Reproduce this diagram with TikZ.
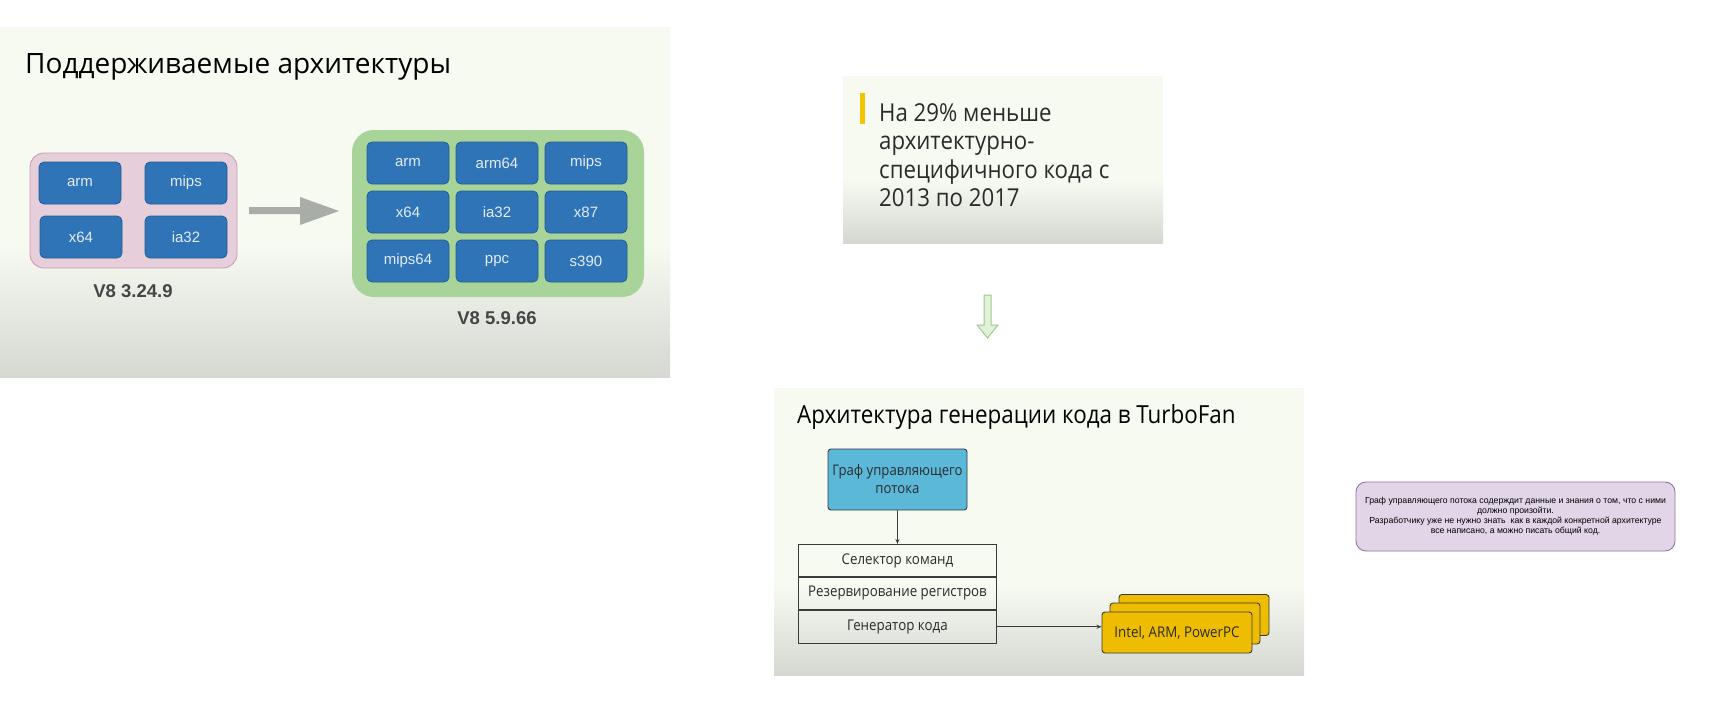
\documentclass[tikz,border=0pt]{standalone}
\usepackage{fontspec}
\setmainfont{Open Sans}
\newfontfamily\yfont[FakeStretch=0.9]{Open Sans}
\newfontfamily\arialf{Liberation Sans}
\usetikzlibrary{arrows.meta}
\definecolor{bgtop}{HTML}{F6FAF1}
\definecolor{bgbot}{HTML}{D4D8D1}
\definecolor{archblue}{HTML}{2F74B7}
\definecolor{archedge}{HTML}{245C93}
\definecolor{archtext}{HTML}{E4ECF4}
\definecolor{pinkfill}{HTML}{E6CFDB}
\definecolor{pinkedge}{HTML}{C99DB2}
\definecolor{greenfill}{HTML}{A8D49A}
\definecolor{greyarrow}{HTML}{A9ADA7}
\definecolor{vlabel}{HTML}{454545}
\definecolor{slidetext}{HTML}{2B2B2B}
\definecolor{yandexyellow}{HTML}{F5C400}
\definecolor{darrowfill}{HTML}{E2F1DA}
\definecolor{darrowedge}{HTML}{9CCC88}
\definecolor{cfgblue}{HTML}{5BB8D9}
\definecolor{boxedge}{HTML}{3A3A3A}
\definecolor{gold}{HTML}{EFBD00}
\definecolor{notefill}{HTML}{E1D5E7}
\definecolor{noteedge}{HTML}{9673A6}
\tikzset{
  archbox/.style={rounded corners=5pt, fill=archblue, draw=archedge, line width=0.8pt,
    minimum width=82pt, minimum height=42pt, inner sep=0pt,
    font=\arialf\fontsize{15}{18}\selectfont, text=archtext},
  vlab/.style={inner sep=0pt, font=\arialf\bfseries\fontsize{18.5}{22}\selectfont, text=vlabel},
  slidetitle/.style={inner sep=0pt, anchor=base west, text=black},
  rowbox/.style={draw=boxedge, line width=0.9pt, minimum width=198pt, inner sep=0pt,
    font=\yfont\fontsize{14.8}{17}\selectfont, text=slidetext},
  goldbox/.style={draw=boxedge, line width=0.9pt, fill=gold, rounded corners=3pt,
    minimum width=150pt, minimum height=41pt, inner sep=0pt,
    font=\yfont\fontsize{14.8}{18}\selectfont, text=slidetext},
  conn/.style={draw=boxedge, line width=0.9pt, -{Stealth[length=5pt,width=4pt]}}
}
\begin{document}
\begin{tikzpicture}[x=1pt,y=-1pt]
\useasboundingbox (0,0) rectangle (1713,712);
\fill[white] (0,0) rectangle (1713,712);

% ---------- slide 1 ----------
\fill[bgtop] (0,27) rectangle (670,377);
\shade[top color=bgtop, bottom color=bgbot] (0,245) rectangle (670,377);
\node[slidetitle, font=\fontsize{28}{34}\selectfont] (t1) at (25,73) {Поддерживаемые архитектуры};

\fill[pinkfill, draw=pinkedge, line width=0.9pt, rounded corners=14pt] (30,153) rectangle (237,268);
\node[archbox] (a1) at (80,183) {arm};
\node[archbox] (a2) at (186,183) {mips};
\node[archbox] (a3) at (81,237) {x64};
\node[archbox] (a4) at (186,237) {ia32};
\node[vlab] (v1) at (133,291) {V8 3.24.9};

\fill[greyarrow] (249,207) -- (300,207) -- (300,197) -- (339,211) -- (300,225) -- (300,214) -- (249,214) -- cycle;

\fill[greenfill, rounded corners=22pt] (352,130) rectangle (644,297);
\node[archbox] (b1) at (408,163) {arm};
\node[archbox] (b2) at (497,163) {arm64};
\node[archbox] (b3) at (586,163) {mips};
\node[archbox] (b4) at (408,212) {x64};
\node[archbox] (b5) at (497,212) {ia32};
\node[archbox] (b6) at (586,212) {x87};
\node[archbox] (b7) at (408,261) {mips64};
\node[archbox] (b8) at (497,261) {ppc};
\node[archbox] (b9) at (586,261) {s390};
\node[vlab] (v2) at (497,318.5) {V8 5.9.66};

% ---------- slide 2 ----------
\fill[bgtop] (843,76) rectangle (1163,243);
\shade[top color=bgtop, bottom color=bgbot] (843,180) rectangle (1163,243);
\fill[yandexyellow] (860,93) rectangle (865,124);
\node[inner sep=0pt, anchor=north west, align=left, text=slidetext,
  font=\yfont\fontsize{24.7}{28.5}\selectfont] (s2) at (879,103)
  {На 29\% меньше\\архитектурно-\\специфичного кода с\\2013 по 2017};

% down arrow
\filldraw[fill=darrowfill, draw=darrowedge, line width=1pt]
  (984,295) -- (991,295) -- (991,325) -- (998,325) -- (987.5,338) -- (977,325) -- (984,325) -- cycle;

% ---------- slide 3 ----------
\fill[bgtop] (774,388) rectangle (1304,675);
\shade[top color=bgtop, bottom color=bgbot] (774,585) rectangle (1304,675);
\node[slidetitle, font=\yfont\fontsize{24.9}{30}\selectfont] (t3) at (797,423) {Архитектура генерации кода в TurboFan};

\node[draw=boxedge, line width=0.9pt, fill=cfgblue, rounded corners=3pt,
  minimum width=139pt, minimum height=61pt, inner sep=0pt, align=center,
  font=\yfont\fontsize{14.6}{18}\selectfont, text=slidetext] (cfg) at (897.5,479.5)
  {Граф управляющего\\потока};

\node[rowbox, minimum height=32pt, anchor=north west] (r1) at (798,544) {Селектор команд};
\node[rowbox, minimum height=32pt, anchor=north] (r2) at (r1.south) {Резервирование регистров};
\node[rowbox, minimum height=33pt, anchor=north] (r3) at (r2.south) {Генератор кода};

\node[goldbox] (g3) at (1194,615) {};
\node[goldbox] (g2) at (1185,623.5) {};
\node[goldbox] (g1) at (1177,632.5) {Intel, ARM, PowerPC};

\draw[conn] (cfg.south) -- (r1.north);
\draw[conn] (r3.east) -- (r3.east -| g1.west);

% ---------- note ----------
\node[draw=noteedge, line width=0.9pt, fill=notefill, rounded corners=10pt,
  minimum width=319pt, minimum height=69pt, inner sep=0pt, align=center,
  font=\arialf\fontsize{8.7}{10}\selectfont, text=black] (note) at (1515.5,516.5)
  {Граф управляющего потока содерждит данные и знания о том, что с ними\\
   должно произойти.\\
   Разработчику уже не нужно знать\ \ как в каждой конкретной архитектуре\\
   все написано, а можно писать общий код.};
\end{tikzpicture}
\end{document}
